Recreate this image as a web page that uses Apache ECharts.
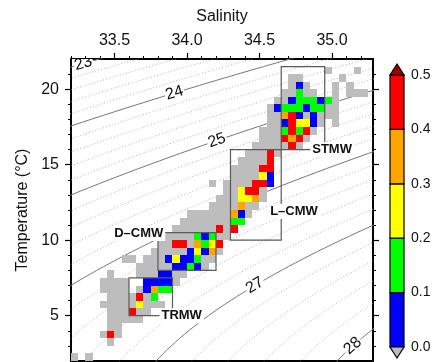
<!DOCTYPE html>
<html>
<head>
<meta charset="utf-8">
<script src="https://cdn.jsdelivr.net/npm/echarts@6/dist/echarts.min.js"></script>
<style>
  html, body { margin: 0; padding: 0; background: #fff; }
  #chart { width: 441px; height: 362px; }
</style>
</head>
<body>
<div id="chart"></div>
<script>
// axis ranges and ticks
const sRange = [33.2, 35.283];
const tRange = [2, 22];
const sLabels = [33.5, 34.0, 34.5, 35.0];
const sMinor = [33.2, 33.3, 33.4, 33.5, 33.6, 33.7, 33.8, 33.9, 34.0, 34.1, 34.2, 34.3, 34.4, 34.5, 34.6, 34.7, 34.8, 34.9, 35.0, 35.1, 35.2];
const tLabels = [5, 10, 15, 20];
const tMinor = [3, 4, 5, 6, 7, 8, 9, 10, 11, 12, 13, 14, 15, 16, 17, 18, 19, 20, 21];

// density contours (sigma-theta)
const sigmaSolid = [23, 24, 25, 26, 27, 28];
const sigmaDotted = [22.8, 23.2, 23.4, 23.6, 23.8, 24.2, 24.4, 24.6, 24.8, 25.2, 25.4, 25.6, 25.8,
  26.2, 26.4, 26.6, 26.8, 27.2, 27.4, 27.6, 27.8, 28.2, 28.4];
const sigmaLabelT = [21.7, 19.75, 16.6, 12.0, 7.0, 3.0]; // temperature where each solid level is labelled

// bins: 0.05 psu x 0.5 degC
const dS = 0.05, dT = 0.5;
// [lower T of row, S of first bin, one code per bin]
// ' ' empty, '.' below 0, b 0-0.1, g 0.1-0.2, y 0.2-0.3, o 0.3-0.4, r 0.4-0.5
const cellRows = [
  [21.0, 34.95, '.   .'],
  [20.5, 34.70, '..     .'],
  [20.0, 34.70, '.b.   . .'],
  [19.5, 34.65, '..g..  . ...'],
  [19.0, 34.60, '..bgggbg.'],
  [18.5, 34.55, '.bgggbgg..'],
  [18.0, 34.55, '..orb.b...'],
  [17.5, 34.55, '..bryyb. .'],
  [17.0, 34.50, '...grgr.'],
  [16.5, 34.50, '...ror.'],
  [16.0, 34.45, '.....r.'],
  [15.5, 34.40, '...r.'],
  [15.0, 34.35, '....r'],
  [14.5, 34.30, '....rr'],
  [14.0, 34.30, '....yb'],
  [13.5, 34.15, '. ....rrb'],
  [13.0, 34.25, '..yrr.'],
  [12.5, 34.20, '...yyo.'],
  [12.0, 34.15, '....o..'],
  [11.5, 34.00, '......ob.'],
  [11.0, 33.95, '.......gg'],
  [10.5, 33.90, '......r.r'],
  [10.0, 33.80, '.....gbg..'],
  [9.5, 33.80, '..rr.ogyr'],
  [9.0, 33.75, '.....bybo.'],
  [8.5, 33.55, '.. ...bybbg..'],
  [8.0, 33.65, '.....bbgb.'],
  [7.5, 33.45, '.   ...bb..'],
  [7.0, 33.40, '....  bbbb.'],
  [6.5, 33.40, '.... .bogg'],
  [6.0, 33.45, '....r.g'],
  [5.5, 33.40, '.....y...'],
  [5.0, 33.45, '...r..'],
  [4.5, 33.45, '.....'],
  [4.0, 33.45, '..'],
  [3.5, 33.40, '.r.'],
  [3.0, 33.45, '.'],
  [2.0, 33.20, '. .']
];
const codeValue = { '.': -0.05, b: 0.05, g: 0.15, y: 0.25, o: 0.35, r: 0.45 };

// water mass boxes [S min, S max, T min, T max]
const boxNames = ['STMW', 'L–CMW', 'D–CMW', 'TRMW'];
const boxes = [[34.65, 34.95, 16, 21.5], [34.30, 34.65, 10, 16], [33.80, 34.20, 8, 10.5], [33.60, 33.90, 5, 7.5]];
const boxLabelAt = [[34.85, 16.0, 'left'], [34.56, 11.9, 'left'], [33.85, 10.45, 'right'], [33.81, 5.0, 'left']];

// colour scale
const cbBounds = [0, 0.1, 0.2, 0.3, 0.4, 0.5];
const cbColors = ['#0000ff', '#00ff00', '#ffff00', '#ffa500', '#ff0000'];
const overColor = '#a00000';
const underColor = '#bdbdbd';

// UNESCO EOS-80 at p = 0
function sigma0(S, T) {
  const rw = 999.842594 + 6.793952e-2 * T - 9.095290e-3 * T * T + 1.001685e-4 * T ** 3
    - 1.120083e-6 * T ** 4 + 6.536332e-9 * T ** 5;
  const A = 8.24493e-1 - 4.0899e-3 * T + 7.6438e-5 * T * T - 8.2467e-7 * T ** 3 + 5.3875e-9 * T ** 4;
  const B = -5.72466e-3 + 1.0227e-4 * T - 1.6546e-6 * T * T;
  return rw + A * S + B * S ** 1.5 + 4.8314e-4 * S * S - 1000;
}
function salinityAt(sig, T) {
  let lo = 28, hi = 40;
  for (let i = 0; i < 50; i++) {
    const m = (lo + hi) / 2;
    if (sigma0(m, T) < sig) lo = m; else hi = m;
  }
  return (lo + hi) / 2;
}

const contourT = [];
for (let t = 1.5; t <= 22.5001; t += 0.25) contourT.push(t);

const colorOf = v => {
  if (v < 0) return underColor;
  for (let i = 0; i < cbColors.length; i++) if (v < cbBounds[i + 1]) return cbColors[i];
  return overColor;
};

const cells = [];
cellRows.forEach(([t, s, codes]) => {
  [...codes].forEach((c, i) => {
    if (c !== ' ') cells.push([s + i * dS, t, codeValue[c]]);
  });
});

const font = '"Liberation Sans", Arial, Helvetica, sans-serif';
const gridW = 302, gridH = 302;
const pxS = gridW / (sRange[1] - sRange[0]);
const pxT = gridH / (tRange[1] - tRange[0]);

const contourLabels = sigmaSolid.map((lv, i) => {
  const t = sigmaLabelT[i];
  const s = salinityAt(lv, t);
  const ds = salinityAt(lv, t + 0.2) - salinityAt(lv, t - 0.2);
  const ang = Math.atan2(0.4 * pxT, ds * pxS);
  return [s, t, lv, ang];
});

const chart = echarts.init(document.getElementById('chart'));

const contourSeries = (levels, lineStyle) => levels.map(lv => ({
  type: 'line', xAxisIndex: 0, yAxisIndex: 0, z: 1, silent: true,
  showSymbol: false, animation: false,
  data: contourT.map(t => [salinityAt(lv, t), t]),
  lineStyle
}));

const option = {
  animation: false,
  backgroundColor: '#fff',
  grid: [
    { left: 71, top: 59, width: gridW, height: gridH },
    { left: 390, top: 75, width: 14, height: 272 }
  ],
  xAxis: [
    {
      gridIndex: 0, type: 'value', position: 'top', min: sRange[0], max: sRange[1],
      name: 'Salinity', nameLocation: 'middle', nameGap: 34,
      nameTextStyle: { fontSize: 16, color: '#111', fontFamily: font },
      axisLine: { lineStyle: { color: '#000', width: 2 } },
      axisTick: { customValues: sLabels, length: 6, lineStyle: { color: '#000', width: 1.2 } },
      axisLabel: { customValues: sLabels, formatter: v => v.toFixed(1), fontSize: 16, color: '#111', fontFamily: font, margin: 10 },
      splitLine: { show: false }
    },
    {
      gridIndex: 0, type: 'value', position: 'top', min: sRange[0], max: sRange[1],
      axisLine: { show: false },
      axisTick: { customValues: sMinor, length: 3, lineStyle: { color: '#000', width: 1 } },
      axisLabel: { show: false }, splitLine: { show: false }
    },
    {
      gridIndex: 0, type: 'value', position: 'bottom', min: sRange[0], max: sRange[1],
      axisLine: { lineStyle: { color: '#000', width: 2 } },
      axisTick: { show: false }, axisLabel: { show: false }, splitLine: { show: false }
    },
    { gridIndex: 1, type: 'value', min: 0, max: 1, show: false }
  ],
  yAxis: [
    {
      gridIndex: 0, type: 'value', position: 'left', min: tRange[0], max: tRange[1],
      name: 'Temperature (°C)', nameLocation: 'middle', nameGap: 37,
      nameTextStyle: { fontSize: 16, color: '#111', fontFamily: font },
      axisLine: { lineStyle: { color: '#000', width: 2 } },
      axisTick: { customValues: tLabels, length: 6, lineStyle: { color: '#000', width: 1.2 } },
      axisLabel: { customValues: tLabels, fontSize: 16, color: '#111', fontFamily: font, margin: 12 },
      splitLine: { show: false }
    },
    {
      gridIndex: 0, type: 'value', position: 'left', min: tRange[0], max: tRange[1],
      axisLine: { show: false },
      axisTick: { customValues: tMinor, length: 3, lineStyle: { color: '#000', width: 1 } },
      axisLabel: { show: false }, splitLine: { show: false }
    },
    {
      gridIndex: 0, type: 'value', position: 'right', min: tRange[0], max: tRange[1],
      axisLine: { lineStyle: { color: '#000', width: 2 } },
      axisTick: { customValues: tLabels, length: 6, lineStyle: { color: '#000', width: 1.2 } },
      axisLabel: { show: false }, splitLine: { show: false }
    },
    {
      gridIndex: 0, type: 'value', position: 'right', min: tRange[0], max: tRange[1],
      axisLine: { show: false },
      axisTick: { customValues: tMinor, length: 3, lineStyle: { color: '#000', width: 1 } },
      axisLabel: { show: false }, splitLine: { show: false }
    },
    {
      gridIndex: 1, type: 'value', position: 'right', min: 0, max: 0.5, interval: 0.1,
      axisLine: { show: false },
      axisTick: { length: 4, lineStyle: { color: '#000', width: 1 } },
      axisLabel: { formatter: v => v.toFixed(1), fontSize: 14, color: '#111', fontFamily: font, margin: 7 },
      splitLine: { show: false }
    }
  ],
  series: [
    ...contourSeries(sigmaDotted, { color: '#a0a0a0', width: 0.8, type: [1, 2] }),
    ...contourSeries(sigmaSolid, { color: '#787878', width: 1 }),
    {
      // contour labels
      type: 'custom', xAxisIndex: 0, yAxisIndex: 0, z: 2, silent: true, clip: true,
      data: contourLabels,
      renderItem: (params, api) => {
        const p = api.coord([api.value(0), api.value(1)]);
        return {
          type: 'text', x: p[0], y: p[1], rotation: api.value(3),
          style: {
            text: String(api.value(2)), fill: '#111', font: '16px ' + font,
            align: 'center', verticalAlign: 'middle',
            backgroundColor: '#fff', padding: [0, 1]
          }
        };
      }
    },
    {
      // binned cells
      type: 'custom', xAxisIndex: 0, yAxisIndex: 0, z: 3, silent: true, clip: true,
      data: cells,
      renderItem: (params, api) => {
        const s = api.value(0), t = api.value(1);
        const a = api.coord([s, t + dT]);
        const b = api.coord([s + dS, t]);
        const x = Math.round(a[0]), y = Math.round(a[1]);
        return {
          type: 'rect',
          shape: { x, y, width: Math.round(b[0]) - x, height: Math.round(b[1]) - y },
          style: { fill: colorOf(api.value(2)) }
        };
      }
    },
    {
      // water mass boxes
      type: 'custom', xAxisIndex: 0, yAxisIndex: 0, z: 4, silent: true,
      data: boxes,
      renderItem: (params, api) => {
        const a = api.coord([api.value(0), api.value(3)]);
        const b = api.coord([api.value(1), api.value(2)]);
        return {
          type: 'rect',
          shape: { x: a[0], y: a[1], width: b[0] - a[0], height: b[1] - a[1] },
          style: { fill: 'none', stroke: '#5a5a5a', lineWidth: 1.2 }
        };
      }
    },
    {
      // box labels
      type: 'custom', xAxisIndex: 0, yAxisIndex: 0, z: 5, silent: true,
      data: boxLabelAt.map((d, i) => [d[0], d[1], i]),
      renderItem: (params, api) => {
        const i = api.value(2);
        const p = api.coord([api.value(0), api.value(1)]);
        return {
          type: 'text', x: p[0], y: p[1],
          style: {
            text: boxNames[i], fill: '#111', font: 'bold 13px ' + font,
            align: boxLabelAt[i][2], verticalAlign: 'middle',
            backgroundColor: '#fff', padding: [1, 2]
          }
        };
      }
    },
    {
      // colour bar
      type: 'custom', xAxisIndex: 3, yAxisIndex: 4, z: 3, silent: true,
      data: cbColors.map((c, i) => [cbBounds[i], cbBounds[i + 1], i]),
      renderItem: (params, api) => {
        const a = api.coord([0, api.value(1)]);
        const b = api.coord([1, api.value(0)]);
        return {
          type: 'rect',
          shape: { x: a[0], y: a[1], width: b[0] - a[0], height: b[1] - a[1] },
          style: { fill: cbColors[api.value(2)], stroke: '#000', lineWidth: 1.2 }
        };
      }
    },
    {
      // over / under triangles
      type: 'custom', xAxisIndex: 3, yAxisIndex: 4, z: 3, silent: true, clip: false,
      data: [[cbBounds[cbBounds.length - 1], -1], [cbBounds[0], 1]],
      renderItem: (params, api) => {
        const dir = api.value(1);
        const l = api.coord([0, api.value(0)]);
        const r = api.coord([1, api.value(0)]);
        const apex = [(l[0] + r[0]) / 2, l[1] + dir * 11];
        return {
          type: 'polygon',
          shape: { points: [l, r, apex] },
          style: { fill: dir < 0 ? overColor : underColor, stroke: '#000', lineWidth: 1.2 }
        };
      }
    }
  ]
};

chart.setOption(option);
</script>
</body>
</html>
